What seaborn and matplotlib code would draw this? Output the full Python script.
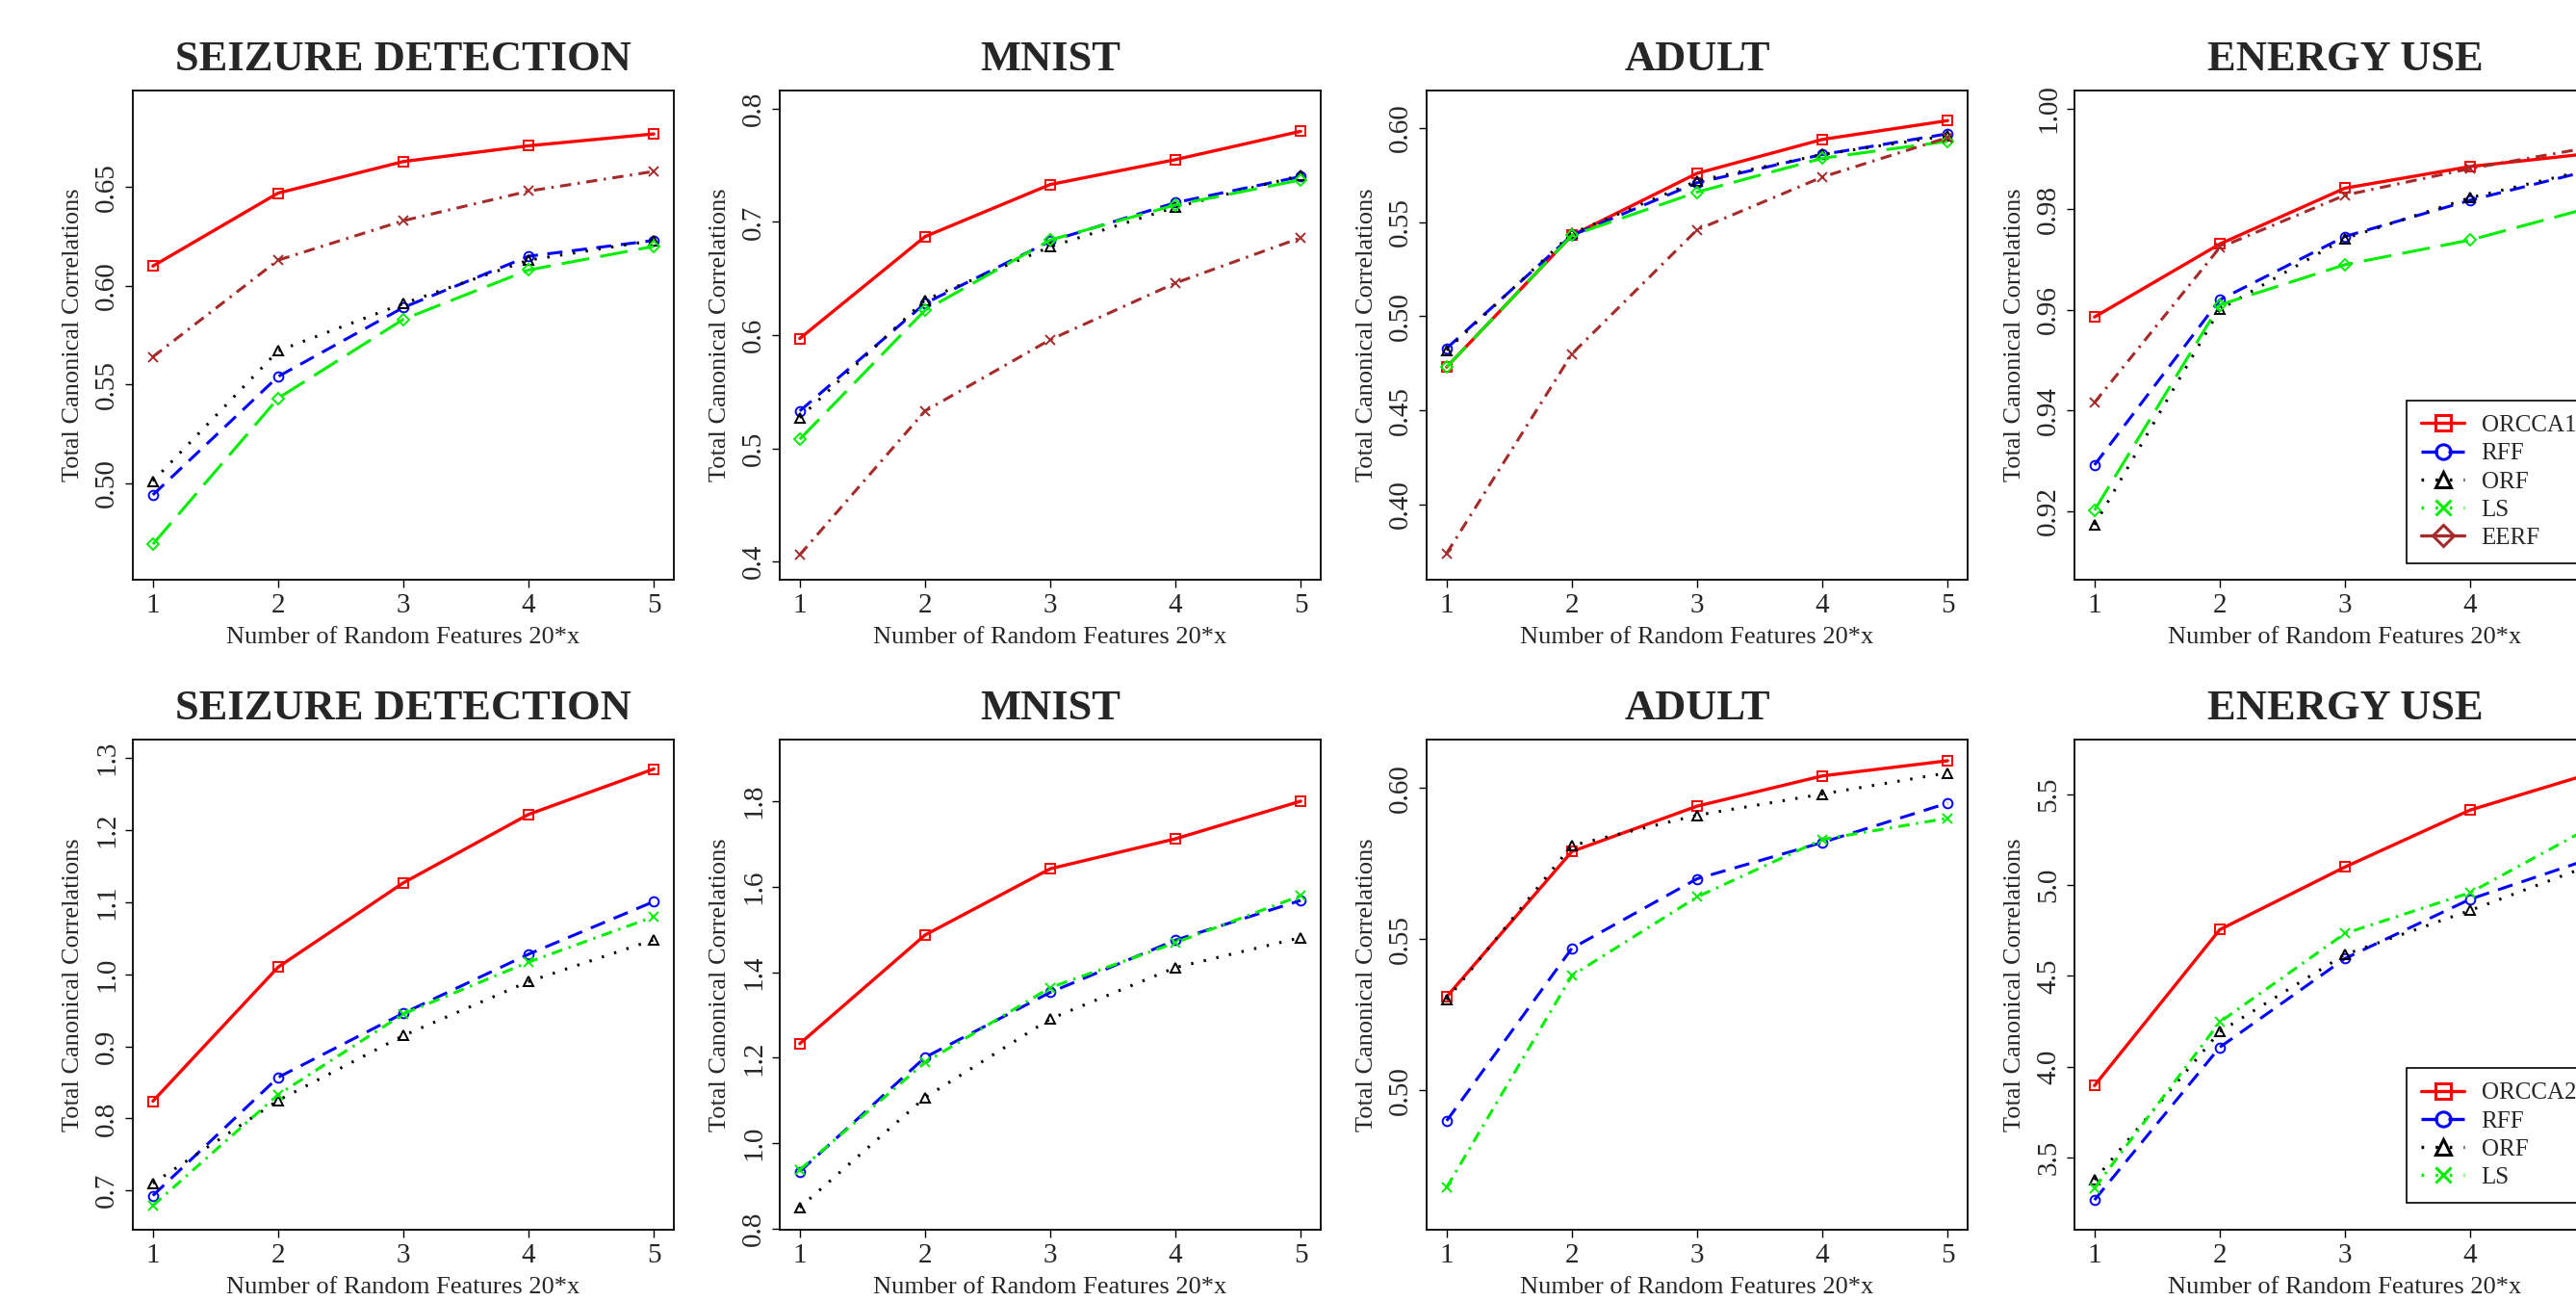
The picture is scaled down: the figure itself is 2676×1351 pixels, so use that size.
import numpy as np
import pandas as pd
import matplotlib
matplotlib.use('Agg')  # no display
import matplotlib.pyplot as plt
from matplotlib.lines import Line2D
import seaborn as sns

########################################
# 1. DATA
########################################
x_vals = [1, 2, 3, 4, 5]

titles = ["SEIZURE DETECTION", "MNIST", "ADULT", "ENERGY USE"]

# top row: ORCCA1 vs baselines
seizure_top = {
    "ORCCA1": [0.610, 0.647, 0.663, 0.671, 0.677],
    "RFF":    [0.494, 0.554, 0.589, 0.615, 0.623],
    "ORF":    [0.501, 0.567, 0.591, 0.613, 0.623],
    "LS":     [0.469, 0.543, 0.583, 0.608, 0.620],
    "EERF":   [0.564, 0.613, 0.633, 0.648, 0.658],
}
mnist_top = {
    "ORCCA1": [0.597, 0.687, 0.733, 0.755, 0.780],
    "RFF":    [0.533, 0.628, 0.683, 0.717, 0.740],
    "ORF":    [0.527, 0.631, 0.678, 0.713, 0.741],
    "LS":     [0.508, 0.622, 0.684, 0.715, 0.737],
    "EERF":   [0.406, 0.533, 0.596, 0.646, 0.686],
}
adult_top = {
    "ORCCA1": [0.473, 0.543, 0.576, 0.594, 0.604],
    "RFF":    [0.483, 0.543, 0.571, 0.586, 0.597],
    "ORF":    [0.482, 0.544, 0.572, 0.586, 0.596],
    "LS":     [0.473, 0.543, 0.566, 0.584, 0.593],
    "EERF":   [0.374, 0.480, 0.546, 0.574, 0.595],
}
energy_top = {
    "ORCCA1": [0.9586, 0.9731, 0.9842, 0.9885, 0.9912],
    "RFF":    [0.9292, 0.9620, 0.9746, 0.9818, 0.9880],
    "ORF":    [0.9173, 0.9601, 0.9742, 0.9823, 0.9882],
    "LS":     [0.9202, 0.9610, 0.9690, 0.9739, 0.9806],
    "EERF":   [0.9416, 0.9724, 0.9828, 0.9881, 0.9925],
}

# bottom row: ORCCA2 vs baselines
seizure_bot = {
    "ORCCA2": [0.824, 1.010, 1.127, 1.222, 1.285],
    "RFF":    [0.693, 0.857, 0.946, 1.028, 1.101],
    "ORF":    [0.710, 0.825, 0.915, 0.990, 1.048],
    "LS":     [0.679, 0.833, 0.945, 1.017, 1.080],
}
mnist_bot = {
    "ORCCA2": [1.233, 1.487, 1.642, 1.712, 1.800],
    "RFF":    [0.934, 1.201, 1.353, 1.475, 1.568],
    "ORF":    [0.850, 1.107, 1.291, 1.411, 1.481],
    "LS":     [0.938, 1.189, 1.364, 1.469, 1.579],
}
adult_bot = {
    "ORCCA2": [0.531, 0.579, 0.594, 0.604, 0.609],
    "RFF":    [0.490, 0.547, 0.570, 0.582, 0.595],
    "ORF":    [0.530, 0.581, 0.591, 0.598, 0.605],
    "LS":     [0.468, 0.538, 0.564, 0.583, 0.590],
}
energy_bot = {
    "ORCCA2": [3.896, 4.755, 5.100, 5.414, 5.623],
    "RFF":    [3.266, 4.107, 4.596, 4.923, 5.155],
    "ORF":    [3.377, 4.193, 4.618, 4.861, 5.120],
    "LS":     [3.332, 4.246, 4.734, 4.959, 5.334],
}

top_panels = [seizure_top, mnist_top, adult_top, energy_top]
bot_panels = [seizure_bot, mnist_bot, adult_bot, energy_bot]

top_yticks = [[0.50, 0.55, 0.60, 0.65], [0.4, 0.5, 0.6, 0.7, 0.8],
              [0.40, 0.45, 0.50, 0.55, 0.60], [0.92, 0.94, 0.96, 0.98, 1.00]]
top_fmt = ["{:.2f}", "{:.1f}", "{:.2f}", "{:.2f}"]
top_ylim = [(0.451, 0.699), (0.384, 0.816), (0.360, 0.620), (0.9064, 1.0036)]

bot_yticks = [[0.7, 0.8, 0.9, 1.0, 1.1, 1.2, 1.3], [0.8, 1.0, 1.2, 1.4, 1.6, 1.8],
              [0.50, 0.55, 0.60], [3.5, 4.0, 4.5, 5.0, 5.5]]
bot_fmt = ["{:.1f}", "{:.1f}", "{:.2f}", "{:.1f}"]
bot_ylim = [(0.6456, 1.3258), (0.798, 1.944), (0.454, 0.616), (3.102, 5.802)]

########################################
# 2. STYLES (R-like)
########################################
sns.set_style("ticks")
plt.rcParams['font.family'] = ['Liberation Serif', 'DejaVu Serif']

RED, BLUE, BLACK, GREEN, BROWN = "#FF0000", "#0000FF", "#000000", "#00EE00", "#A52A2A"
DASHED = (0, (5.2, 3.2))
DOTTED = (0, (0.8, 3.6))
LONGDASH = (0, (9.5, 3.8))
DOTDASH = (0, (3.8, 2.2, 0.8, 2.2))

top_style = {
    "ORCCA1": (RED, "-", "s"),
    "RFF":    (BLUE, DASHED, "o"),
    "ORF":    (BLACK, DOTTED, "^"),
    "LS":     (GREEN, LONGDASH, "D"),
    "EERF":   (BROWN, DOTDASH, "x"),
}
bot_style = {
    "ORCCA2": (RED, "-", "s"),
    "RFF":    (BLUE, DASHED, "o"),
    "ORF":    (BLACK, DOTTED, "^"),
    "LS":     (GREEN, DOTDASH, "x"),
}

# legend handles as in the original figure
top_legend = [("ORCCA1", RED, "-", "s"), ("RFF", BLUE, DASHED, "o"),
              ("ORF", BLACK, DOTTED, "^"), ("LS", GREEN, DOTTED, "x"),
              ("EERF", BROWN, "-", "D")]
bot_legend = [("ORCCA2", RED, "-", "s"), ("RFF", BLUE, DASHED, "o"),
              ("ORF", BLACK, DOTTED, "^"), ("LS", GREEN, DOTTED, "x")]

########################################
# 3. FIGURE
########################################
W, H = 2676, 1351
fig = plt.figure(figsize=(W / 100, H / 100), dpi=100)

col_left = [138, 810, 1482, 2155]
ax_w = 562
rows = [(94, 602), (768, 1277)]


def draw_panel(ax, data, styles, title, yticks, fmt, ylim):
    for name, vals in data.items():
        color, ls, mk = styles[name]
        sns.lineplot(x=x_vals, y=vals, ax=ax, color=color, linestyle=ls,
                     linewidth=2.4 if name.startswith("ORCCA") else 2.2,
                     marker=mk, markersize=7 if mk != "D" else 6,
                     markerfacecolor="none", markeredgecolor=color,
                     markeredgewidth=1.4, errorbar=None, legend=False)
    ax.set_xlim(0.84, 5.16)
    ax.set_ylim(*ylim)
    ax.set_xticks(x_vals)
    ax.set_yticks(yticks)
    ax.set_yticklabels([fmt.format(v) for v in yticks])
    ax.tick_params(axis='both', labelsize=21, length=6, width=1.0,
                   direction='out', color='black', pad=4)
    ax.tick_params(axis='y', labelrotation=90)
    for lab in ax.get_yticklabels():
        lab.set_va('center')
    for sp in ax.spines.values():
        sp.set_visible(True)
        sp.set_linewidth(1.3)
        sp.set_color('black')
    ax.set_title(title, fontsize=32, fontweight='bold', pad=15)
    ax.set_xlabel("Number of Random Features 20*x", fontsize=19)
    ax.set_ylabel("Total Canonical Correlations", fontsize=19)
    ax.xaxis.set_label_coords(0.5, -0.118)
    ax.xaxis.label.set_va('center')
    ax.yaxis.set_label_coords(-0.110, 0.5)
    ax.yaxis.label.set_va('center')


def add_legend(ax, entries, anchor):
    handles = [Line2D([0], [0], color=c, linestyle=ls, linewidth=2.4, marker=m,
                      markersize=11, markerfacecolor='none', markeredgecolor=c,
                      markeredgewidth=2.2) for _, c, ls, m in entries]
    labels = [e[0] for e in entries]
    leg = ax.legend(handles, labels, loc='lower left', bbox_to_anchor=anchor,
                    fontsize=18, frameon=True, fancybox=False, framealpha=1,
                    edgecolor='black', handlelength=1.8, handletextpad=0.7,
                    labelspacing=0.27, borderpad=0.6, borderaxespad=0,
                    numpoints=1)
    leg.get_frame().set_linewidth(1.2)


for r, (panels, styles, yt, fm, yl) in enumerate([
        (top_panels, top_style, top_yticks, top_fmt, top_ylim),
        (bot_panels, bot_style, bot_yticks, bot_fmt, bot_ylim)]):
    top_px, bot_px = rows[r]
    for c in range(4):
        ax = fig.add_axes([col_left[c] / W, 1 - bot_px / H,
                           ax_w / W, (bot_px - top_px) / H])
        draw_panel(ax, panels[c], styles, titles[c], yt[c], fm[c], yl[c])
        if c == 3:
            if r == 0:
                add_legend(ax, top_legend, (0.614, 0.033))
            else:
                add_legend(ax, bot_legend, (0.614, 0.055))

########################################
# 4. SAVE
########################################
fig.savefig("out.png", dpi=100)
plt.close(fig)
print("saved out.png")
